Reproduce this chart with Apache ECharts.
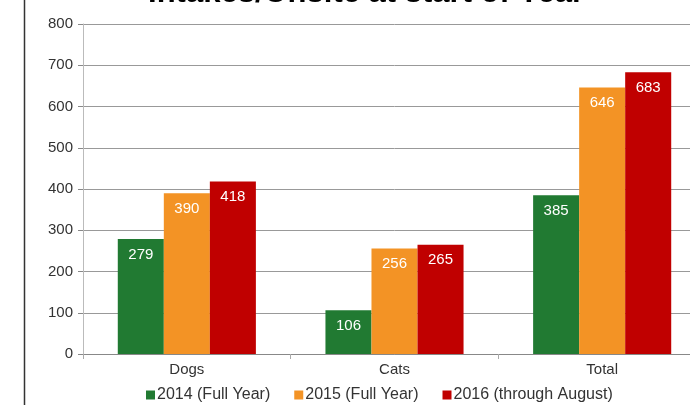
<!DOCTYPE html>
<html>
<head>
<meta charset="utf-8">
<script src="https://cdn.jsdelivr.net/npm/echarts@6/dist/echarts.min.js"></script>
<style>
  html, body { margin: 0; padding: 0; background: #fff; overflow: hidden; }
  /* the plot runs past the right edge of the picture, so the canvas is wider than the window */
  #main { width: 706px; height: 412px; }
</style>
</head>
<body>
<div id="main"></div>
<script>
// data
var categories = ['Dogs', 'Cats', 'Total'];
var seriesNames = ['2014 (Full Year)', '2015 (Full Year)', '2016 (through August)'];
var values2014 = [279, 106, 385];
var values2015 = [390, 256, 646];
var values2016 = [418, 265, 683];
var colors = ['#217a32', '#f39325', '#c00000'];
var titleText = 'Intakes/Onsite at start of Year';

var myChart = echarts.init(document.getElementById('main'));
var font = 'Liberation Sans';

function makeSeries(name, data, color) {
    return {
        name: name,
        type: 'bar',
        data: data,
        barGap: 0,
        barCategoryGap: '33.5%',
        itemStyle: { color: color },
        label: {
            show: true,
            position: 'insideTop',
            distance: 8,
            color: '#fff',
            fontFamily: font,
            fontSize: 15
        }
    };
}

var option = {
    animation: false,
    textStyle: { fontFamily: font },
    legend: {
        bottom: 4,
        left: 141,
        itemWidth: 9,
        itemHeight: 9,
        itemGap: 24,
        icon: 'rect',
        textStyle: { fontFamily: font, fontSize: 16, color: '#333', padding: [0, 0, 0, -3] },
        data: seriesNames
    },
    grid: { left: 83, right: 0, top: 24, bottom: 58, containLabel: false },
    xAxis: {
        type: 'category',
        data: categories,
        axisLine: { lineStyle: { color: '#888' } },
        axisTick: { show: true, length: 5, lineStyle: { color: '#aaa' } },
        axisLabel: { fontFamily: font, fontSize: 15, color: '#333', margin: 8 }
    },
    yAxis: {
        type: 'value',
        min: 0,
        max: 800,
        interval: 100,
        axisLine: { show: true, lineStyle: { color: '#bbb' } },
        axisTick: { show: true, length: 5, lineStyle: { color: '#888' } },
        axisLabel: { fontFamily: font, fontSize: 15, color: '#333', margin: 10 },
        splitLine: { lineStyle: { color: '#999' } }
    },
    graphic: [{
        // left frame line
        type: 'line',
        shape: { x1: 24.5, y1: 0, x2: 24.5, y2: 405 },
        style: { stroke: '#333', lineWidth: 1.5 }
    }, {
        // title, mostly cut off by the top edge
        type: 'text',
        x: 366,
        y: 9,
        style: {
            text: titleText,
            font: 'bold 31px "Liberation Sans"',
            fill: '#000',
            align: 'center',
            verticalAlign: 'bottom'
        }
    }],
    series: [
        makeSeries(seriesNames[0], values2014, colors[0]),
        makeSeries(seriesNames[1], values2015, colors[1]),
        makeSeries(seriesNames[2], values2016, colors[2])
    ]
};

myChart.setOption(option);
</script>
</body>
</html>
